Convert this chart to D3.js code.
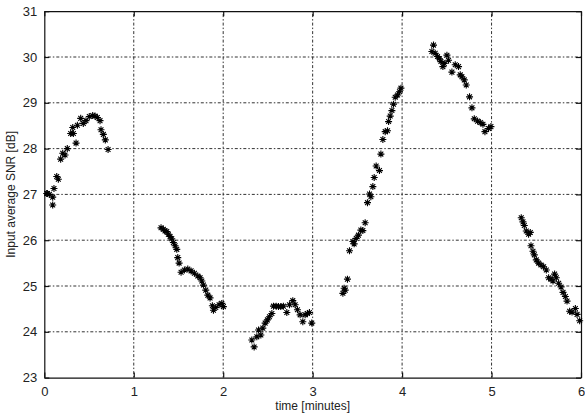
<!DOCTYPE html>
<html><head><meta charset="utf-8">
<script src="https://cdn.jsdelivr.net/npm/d3@7"></script>
<style>body{margin:0;background:#fff}svg{display:block}text{font-family:"Liberation Sans",Arial,sans-serif;fill:#222}</style>
</head><body>
<script>
const xTicks = [0,1,2,3,4,5,6];
const yTicks = [23,24,25,26,27,28,29,30,31];
const xLabel = "time [minutes]";
const yLabel = "Input average SNR [dB]";

// time [minutes]
const timeMin = [
 0.027,0.034,0.056,0.094,0.094,0.108,0.139,0.157,0.183,0.206,0.232,0.257,0.295,0.318,0.325,0.355,0.37,0.407,0.436,0.466,0.503,0.541,0.567,0.593,0.623,0.634,0.66,0.682,0.713,
 1.305,1.331,1.35,1.369,1.387,1.406,1.425,1.443,1.462,1.481,1.492,1.507,1.529,1.566,1.604,1.641,1.678,1.716,1.742,1.761,1.779,1.805,1.828,1.853,1.879,1.891,1.917,1.954,1.984,2.002,
 2.32,2.346,2.376,2.395,2.421,2.443,2.469,2.494,2.517,2.544,2.562,2.592,2.618,2.644,2.673,2.711,2.741,2.778,2.804,2.83,2.86,2.89,2.916,2.942,2.964,2.99,
 3.338,3.352,3.364,3.389,3.412,3.45,3.464,3.487,3.512,3.539,3.561,3.587,3.613,3.636,3.651,3.673,3.688,3.71,3.747,3.763,3.785,3.811,3.837,3.849,3.867,3.886,3.904,3.923,3.949,3.971,3.987,
 4.333,4.351,4.37,4.396,4.418,4.434,4.456,4.471,4.501,4.519,4.557,4.594,4.631,4.65,4.669,4.695,4.717,4.754,4.781,4.807,4.844,4.874,4.904,4.926,4.966,4.993,
 5.332,5.351,5.366,5.388,5.414,5.433,5.441,5.463,5.478,5.5,5.526,5.553,5.582,5.612,5.638,5.665,5.687,5.705,5.724,5.75,5.777,5.799,5.825,5.844,5.873,5.9,5.937,5.956,5.985
];
// Input average SNR [dB]
const snrDb = [
 27.02,27.02,27.0,26.94,26.77,27.13,27.39,27.33,27.77,27.9,27.86,28.0,28.33,28.46,28.33,28.12,28.51,28.66,28.55,28.61,28.7,28.72,28.71,28.68,28.61,28.41,28.31,28.19,27.98,
 26.27,26.24,26.2,26.19,26.13,26.08,26.03,25.95,25.88,25.8,25.62,25.5,25.3,25.35,25.37,25.33,25.28,25.22,25.18,25.11,25.02,24.91,24.8,24.74,24.57,24.47,24.53,24.59,24.62,24.55,
 23.82,23.67,23.89,24.04,23.93,24.08,24.19,24.26,24.33,24.4,24.56,24.56,24.55,24.55,24.56,24.42,24.59,24.68,24.59,24.48,24.37,24.22,24.37,24.4,24.42,24.19,
 24.84,24.95,24.91,25.15,25.77,25.97,25.92,26.04,26.11,26.22,26.21,26.38,26.82,27.01,26.95,27.17,27.37,27.62,27.52,27.88,28.2,28.37,28.39,28.59,28.71,28.83,28.97,29.12,29.17,29.24,29.32,
 30.12,30.26,30.08,30.01,29.96,29.9,29.79,29.86,30.04,29.93,29.67,29.83,29.79,29.61,29.57,29.5,29.39,29.13,28.89,28.65,28.6,28.57,28.53,28.37,28.44,28.48,
 26.49,26.4,26.32,26.2,26.13,26.17,25.88,25.76,25.68,25.57,25.5,25.46,25.42,25.35,25.18,25.15,25.11,25.26,25.18,25.06,24.98,24.86,24.77,24.67,24.45,24.43,24.51,24.38,24.24
];

const W = 585, H = 415;
const m = {left: 44.3, right: 585-581, top: 11.2, bottom: 415-377.6};
const svg = d3.select("body").append("svg").attr("width", W).attr("height", H);
const x = d3.scaleLinear().domain([0,6]).range([m.left, W-m.right]);
const y = d3.scaleLinear().domain([23,31]).range([H-m.bottom, m.top]);

// grid
const g = svg.append("g");
g.selectAll(".gx").data(xTicks.slice(1,-1)).join("line")
  .attr("x1", d=>x(d)).attr("x2", d=>x(d)).attr("y1", y(23)).attr("y2", y(31))
  .attr("stroke","#333").attr("stroke-width",1).attr("stroke-dasharray","1.5,2,3,2");
g.selectAll(".gy").data(yTicks.slice(1,-1)).join("line")
  .attr("y1", d=>y(d)).attr("y2", d=>y(d)).attr("x1", x(0)).attr("x2", x(6))
  .attr("stroke","#333").attr("stroke-width",1).attr("stroke-dasharray","1.5,2,3,2");

// axes
const xAx = svg.append("g").attr("transform",`translate(0,${y(23)})`)
  .call(d3.axisBottom(x).tickValues(xTicks).tickFormat(d3.format("d")).tickSizeInner(-5).tickSizeOuter(0).tickPadding(9));
const yAx = svg.append("g").attr("transform",`translate(${x(0)},0)`)
  .call(d3.axisLeft(y).tickValues(yTicks).tickFormat(d3.format("d")).tickSizeInner(-5).tickSizeOuter(0).tickPadding(7));
svg.append("g").attr("transform",`translate(0,${y(31)})`)
  .call(d3.axisTop(x).tickValues(xTicks).tickFormat("").tickSizeInner(-5).tickSizeOuter(0));
svg.append("g").attr("transform",`translate(${x(6)},0)`)
  .call(d3.axisRight(y).tickValues(yTicks).tickFormat("").tickSizeInner(-5).tickSizeOuter(0));
svg.selectAll(".domain, .tick line").attr("stroke","#111").attr("stroke-width",1.2);
svg.selectAll(".tick text").attr("font-size",13).attr("fill","#222")
  .attr("font-family",'"Liberation Sans",Arial,sans-serif');

// labels
svg.append("text").attr("x",(x(0)+x(6))/2).attr("y",410).attr("text-anchor","middle")
  .attr("font-size",12).text(xLabel);
svg.append("text").attr("transform",`translate(15,${(y(23)+y(31))/2}) rotate(-90)`)
  .attr("text-anchor","middle").attr("font-size",12).text(yLabel);

// markers (asterisk)
const star = "M-3.5,0L3.5,0M0,-3.5L0,3.5M-2.4,-2.4L2.4,2.4M-2.4,2.4L2.4,-2.4";
svg.append("g").selectAll("path").data(timeMin.map((t,i)=>[t,snrDb[i]])).join("path")
  .attr("transform", d=>`translate(${x(d[0])},${y(d[1])})`)
  .attr("d", star).attr("stroke","#000").attr("stroke-width",1.1).attr("fill","none");
</script>
</body></html>
